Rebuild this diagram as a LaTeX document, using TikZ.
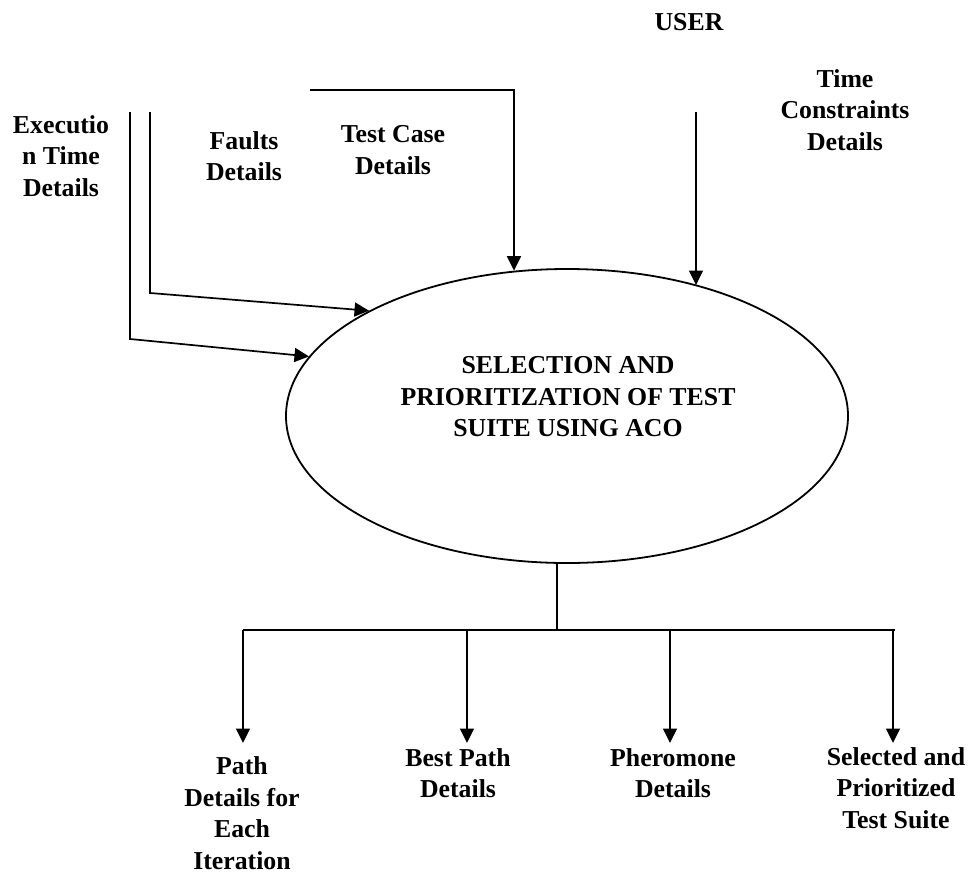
\documentclass[tikz,border=0pt]{standalone}
\usepackage{fontspec}
\setmainfont{Liberation Serif}
\usetikzlibrary{arrows.meta,shapes.geometric}

\tikzset{
  flow/.style={line width=1.7pt},
  thinflow/.style={line width=1.2pt},
  tip/.style={-{Triangle[length=14.5pt,width=14pt]}},
  lbl/.style={align=center,inner sep=0pt,font=\fontsize{25.8}{31.5}\selectfont\bfseries},
  process/.style={draw,ellipse,line width=1.8pt,inner sep=0pt,
    minimum width=562pt,minimum height=294pt}
}

\begin{document}
\begin{tikzpicture}[x=1pt,y=-1pt]
  \useasboundingbox (0,0) rectangle (969,876);

  % central process
  \node[process] (ell) at (567,416) {};
  \node[lbl] (title) at (568,397) {SELECTION AND\\PRIORITIZATION OF TEST\\SUITE USING ACO};

  % input labels
  \node[lbl] (user) at (689,22) {USER};
  \node[lbl] (time) at (845,110) {Time\\Constraints\\Details};
  \node[lbl] (exec) at (61,156) {Executio\\n Time\\Details};
  \node[lbl] (faults) at (244,156) {Faults\\Details};
  \node[lbl] (tcase) at (393,150) {Test Case\\Details};

  % free ends of the input flows
  \coordinate (tcStart) at (310,90);
  \coordinate (tcBend) at (514,90);
  \coordinate (timeStart) at (696,112);
  \coordinate (faultStart) at (150,112);
  \coordinate (faultBend) at (150,293);
  \coordinate (execStart) at (130,112);
  \coordinate (execBend) at (130,339);

  % input flows
  \draw[flow,tip] (tcStart) -- (tcBend) -- (tcBend |- ell.110.2);
  \draw[thinflow,tip] (timeStart) -- (timeStart |- ell.45.4);
  \draw[flow,tip] (faultStart) -- (faultBend) -- (ell.152.2);
  \draw[flow,tip] (execStart) -- (execBend) -- (ell.167.6);

  % output distribution
  \coordinate (hub) at (557,630);
  \coordinate (busL) at (243,630);
  \coordinate (busR) at (895,630);
  \coordinate (b1) at (243,630);
  \coordinate (b2) at (467,630);
  \coordinate (b3) at (670,630);
  \coordinate (b4) at (893,630);
  \coordinate (e1) at (243,743);
  \coordinate (e2) at (467,743);
  \coordinate (e3) at (670,743);
  \coordinate (e4) at (893,743);

  \draw[flow] (hub |- ell.south) -- (hub);
  \draw[flow] (busL) -- (busR);
  \draw[flow,tip] (b1) -- (e1);
  \draw[flow,tip] (b2) -- (e2);
  \draw[flow,tip] (b3) -- (e3);
  \draw[flow,tip] (b4) -- (e4);

  % output labels
  \node[lbl] (pathd) at (242,813) {Path\\Details for\\Each\\Iteration};
  \node[lbl] (best) at (458,773) {Best Path\\Details};
  \node[lbl] (pher) at (673,773) {Pheromone\\Details};
  \node[lbl] (suite) at (896,788) {Selected and\\Prioritized\\Test Suite};
\end{tikzpicture}
\end{document}
